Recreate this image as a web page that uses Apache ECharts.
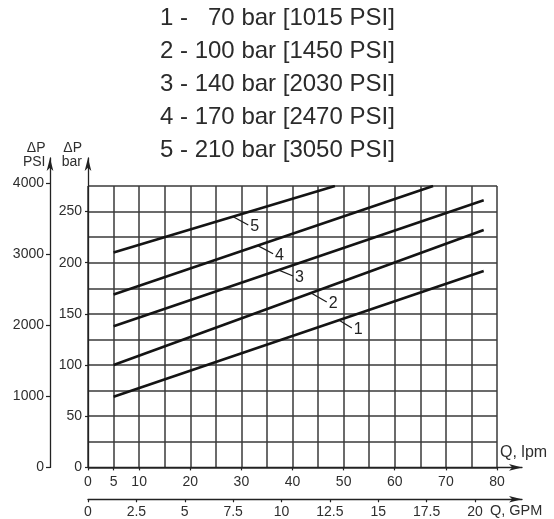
<!DOCTYPE html>
<html>
<head>
<meta charset="utf-8">
<script src="https://cdn.jsdelivr.net/npm/echarts@6/dist/echarts.min.js"></script>
<style>
html,body{margin:0;padding:0;background:#fff;}
#c{width:554px;height:519px;}
</style>
</head>
<body>
<div id="c"></div>
<script>
// ---- data ----
const legendLabels = [
  '1 -   70 bar [1015 PSI]',
  '2 - 100 bar [1450 PSI]',
  '3 - 140 bar [2030 PSI]',
  '4 - 170 bar [2470 PSI]',
  '5 - 210 bar [3050 PSI]'
];
const curveNames = ['1', '2', '3', '4', '5'];
// Q (lpm), dP (bar)
const curve1 = [[5, 69], [77.4, 192]];
const curve2 = [[5, 100], [77.4, 232]];
const curve3 = [[5, 138], [77.4, 261]];
const curve4 = [[5, 169], [67.5, 275]];
const curve5 = [[5, 210], [48.3, 275]];
const leaderStarts = [[49.2, 143.5], [43.8, 170], [37.2, 193], [33.3, 216.5], [28.4, 245]];
const leaderEnds = [[51.6, 136.2], [46.7, 161.6], [40.1, 187], [36.2, 208.8], [31.35, 236.9]];
const lpmTicks = [0, 5, 10, 20, 30, 40, 50, 60, 70, 80];
const gpmTicks = [0, 2.5, 5, 7.5, 10, 12.5, 15, 17.5, 20];
const barTicks = [0, 50, 100, 150, 200, 250];
const psiTicks = [0, 1000, 2000, 3000, 4000];

// ---- layout ----
const FONT = '"Liberation Sans", Arial, Helvetica, sans-serif';
const X0 = 88, XPX = 5.1125;      // px per lpm
const Y0 = 467.4, YPX = 1.0233;   // px per bar
const AX_TOP = 158, AX_RIGHT = 522;
const gridColor = '#3a3a3a';
const axisColor = '#222';
const textColor = '#2e2e2e';

const curves = [curve1, curve2, curve3, curve4, curve5];

const arrowLine = {
  show: true, onZero: false,
  symbol: ['none', 'arrow'], symbolSize: [5, 13],
  lineStyle: { color: axisColor, width: 1.3 }
};
const lbl = (vals, margin) => ({
  show: true, customValues: vals, margin: margin,
  fontSize: 14, color: textColor, fontFamily: FONT,
  formatter: v => String(v)
});
const tk = (vals, len) => ({
  show: true, customValues: vals, length: len,
  lineStyle: { color: axisColor, width: 1.2 }
});

const series = [];
curves.forEach((c, i) => {
  series.push({
    type: 'line', xAxisIndex: 0, yAxisIndex: 0, data: c,
    showSymbol: false, silent: true, animation: false,
    lineStyle: { color: '#141414', width: 2.6 }
  });
  series.push({
    type: 'line', xAxisIndex: 0, yAxisIndex: 0,
    data: [leaderStarts[i], leaderEnds[i]],
    showSymbol: false, silent: true, animation: false,
    lineStyle: { color: '#1a1a1a', width: 1.2 },
    endLabel: {
      show: true, formatter: curveNames[i], distance: 2, offset: [0, 2],
      fontSize: 16, color: '#222', fontFamily: FONT
    }
  });
});

const graphics = legendLabels.map((t, i) => ({
  type: 'text', x: 160, y: 18 + 33 * i, silent: true,
  style: { text: t, font: '24px ' + FONT, fill: '#2b2b2b', textAlign: 'left', textVerticalAlign: 'middle' }
}));
graphics.push(
  { type: 'text', x: 45.5, y: 141, style: { text: 'ΔP\nPSI', font: '14px ' + FONT, lineHeight: 14, fill: textColor, textAlign: 'right', textVerticalAlign: 'top' } },
  { type: 'text', x: 82, y: 141, style: { text: 'ΔP\nbar', font: '14px ' + FONT, lineHeight: 14, fill: textColor, textAlign: 'right', textVerticalAlign: 'top' } },
  { type: 'text', x: 500, y: 453, style: { text: 'Q, lpm', font: '16px ' + FONT, fill: textColor, textAlign: 'left', textVerticalAlign: 'middle' } },
  { type: 'text', x: 490, y: 511, style: { text: 'Q, GPM', font: '14.5px ' + FONT, fill: textColor, textAlign: 'left', textVerticalAlign: 'middle' } }
);

const chart = echarts.init(document.getElementById('c'), null, { renderer: 'canvas' });
chart.setOption({
  animation: false,
  backgroundColor: '#fff',
  textStyle: { fontFamily: FONT },
  grid: [
    { left: X0, top: Y0 - 275 * YPX, width: 80 * XPX, height: 275 * YPX },
    { left: X0, top: AX_TOP, width: AX_RIGHT - X0, height: Y0 - AX_TOP },
    { left: 50, top: AX_TOP, width: 1, height: Y0 - AX_TOP },
    { left: X0, top: 499, width: AX_RIGHT - X0, height: 1 }
  ],
  xAxis: [
    { gridIndex: 0, type: 'value', min: 0, max: 80, interval: 5,
      axisLine: { show: false }, axisTick: { show: false }, axisLabel: { show: false },
      splitLine: { show: true, lineStyle: { color: gridColor, width: 1.5 } } },
    { gridIndex: 1, type: 'value', min: 0, max: (AX_RIGHT - X0) / XPX,
      axisLine: arrowLine, axisTick: tk(lpmTicks, 3), axisLabel: lbl(lpmTicks, 8),
      splitLine: { show: false } },
    { gridIndex: 2, type: 'value', min: 0, max: 1, show: false },
    { gridIndex: 3, type: 'value', min: 0, max: (AX_RIGHT - X0) / XPX / 3.78541,
      axisLine: arrowLine, axisTick: tk(gpmTicks, 3), axisLabel: lbl(gpmTicks, 6),
      splitLine: { show: false } }
  ],
  yAxis: [
    { gridIndex: 0, type: 'value', min: 0, max: 275, interval: 25,
      axisLine: { show: false }, axisTick: { show: false }, axisLabel: { show: false },
      splitLine: { show: true, lineStyle: { color: gridColor, width: 1.5 } } },
    { gridIndex: 1, type: 'value', min: 0, max: (Y0 - AX_TOP) / YPX,
      axisLine: arrowLine, axisTick: tk(barTicks, 3), axisLabel: lbl(barTicks, 6),
      splitLine: { show: false } },
    { gridIndex: 2, type: 'value', min: 0, max: 4360,
      axisLine: arrowLine, axisTick: tk(psiTicks, 4), axisLabel: lbl(psiTicks, 6),
      splitLine: { show: false } },
    { gridIndex: 3, type: 'value', min: 0, max: 1, show: false }
  ],
  series: series,
  graphic: graphics
});
</script>
</body>
</html>
